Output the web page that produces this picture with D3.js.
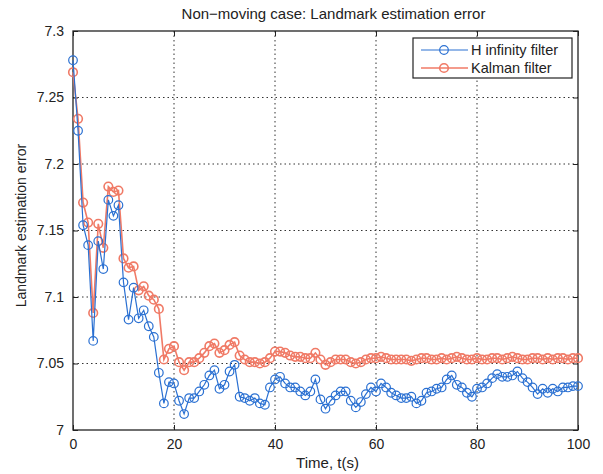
<!DOCTYPE html>
<html>
<head>
<meta charset="utf-8">
<script src="https://cdn.jsdelivr.net/npm/d3@7"></script>
<style>
  body { margin: 0; background: #fff; }
  text { font-family: "Liberation Sans", Arial, sans-serif; fill: #222; }
</style>
</head>
<body>
<svg id="chart" width="603" height="474"></svg>
<script>
// time steps 0..100
let time_steps = d3.range(0, 101);

let h_infinity_values = [
    7.278, 7.225, 7.154, 7.139, 7.067, 7.142, 7.121, 7.173, 7.161, 7.169,
    7.111, 7.083, 7.107, 7.084, 7.090, 7.078, 7.070, 7.043, 7.020, 7.036,
    7.035, 7.022, 7.012, 7.024, 7.024, 7.029, 7.034, 7.041, 7.045, 7.031,
    7.034, 7.044, 7.049, 7.025, 7.024, 7.022, 7.024, 7.020, 7.019, 7.032,
    7.038, 7.040, 7.035, 7.032, 7.032, 7.029, 7.026, 7.029, 7.038, 7.023,
    7.016, 7.022, 7.026, 7.029, 7.029, 7.022, 7.017, 7.021, 7.027, 7.032,
    7.029, 7.035, 7.032, 7.028, 7.026, 7.024, 7.024, 7.025, 7.020, 7.022,
    7.028, 7.029, 7.031, 7.032, 7.038, 7.041, 7.034, 7.032, 7.028, 7.025,
    7.031, 7.032, 7.035, 7.039, 7.042, 7.040, 7.040, 7.041, 7.044, 7.039,
    7.036, 7.032, 7.027, 7.031, 7.028, 7.031, 7.029, 7.032, 7.032, 7.033,
    7.033
];

let kalman_values = [
    7.269, 7.234, 7.171, 7.156, 7.088, 7.155, 7.137, 7.183, 7.179, 7.180,
    7.129, 7.122, 7.123, 7.105, 7.108, 7.101, 7.098, 7.091, 7.053, 7.061,
    7.063, 7.051, 7.045, 7.051, 7.051, 7.054, 7.058, 7.063, 7.065, 7.058,
    7.060, 7.064, 7.066, 7.056, 7.053, 7.051, 7.051, 7.050, 7.051, 7.054,
    7.059, 7.059, 7.058, 7.056, 7.055, 7.055, 7.054, 7.054, 7.058, 7.053,
    7.049, 7.051, 7.053, 7.053, 7.053, 7.051, 7.050, 7.051, 7.053, 7.054,
    7.054, 7.055, 7.054, 7.053, 7.053, 7.053, 7.053, 7.052, 7.053, 7.054,
    7.054, 7.053, 7.053, 7.054, 7.053, 7.054, 7.055, 7.054, 7.053, 7.053,
    7.054, 7.053, 7.053, 7.054, 7.054, 7.053, 7.054, 7.055, 7.054, 7.053,
    7.053, 7.054, 7.054, 7.053, 7.054, 7.053, 7.054, 7.054, 7.053, 7.054,
    7.054
];

let x_ticks = [0, 20, 40, 60, 80, 100];
let y_ticks = [7, 7.05, 7.1, 7.15, 7.2, 7.25, 7.3];
let y_tick_labels = ['7', '7.05', '7.1', '7.15', '7.2', '7.25', '7.3'];
let series_names = ['H infinity filter', 'Kalman filter'];
let series_colors = ['#2a70d2', '#f07a66'];
let series_widths = [1.2, 1.6];

let svg = d3.select('#chart');
let plot_left = 73, plot_right = 578, plot_top = 31, plot_bottom = 430;

let x_scale = d3.scaleLinear().domain([0, 100]).range([plot_left, plot_right]);
let y_scale = d3.scaleLinear().domain([7, 7.3]).range([plot_bottom, plot_top]);

// grid lines (dotted, matlab style)
let grid = svg.append('g').attr('class', 'grid');
x_ticks.slice(1, -1).forEach(function (t) {
    grid.append('line')
        .attr('x1', x_scale(t)).attr('x2', x_scale(t))
        .attr('y1', plot_top).attr('y2', plot_bottom)
        .attr('stroke', '#333').attr('stroke-width', 1)
        .attr('stroke-dasharray', '1.5,3');
});
y_ticks.slice(1, -1).forEach(function (v) {
    grid.append('line')
        .attr('x1', plot_left).attr('x2', plot_right)
        .attr('y1', y_scale(v)).attr('y2', y_scale(v))
        .attr('stroke', '#333').attr('stroke-width', 1)
        .attr('stroke-dasharray', '1.5,3');
});

// axes with inward ticks
let x_axis_bottom = d3.axisBottom(x_scale).tickValues(x_ticks).tickSize(-5).tickPadding(9).tickFormat(d3.format('d'));
let x_axis_top = d3.axisTop(x_scale).tickValues(x_ticks).tickSize(-5).tickFormat('');
let y_axis_left = d3.axisLeft(y_scale).tickValues(y_ticks).tickSize(-5).tickPadding(9)
    .tickFormat(function (d, i) { return y_tick_labels[i]; });
let y_axis_right = d3.axisRight(y_scale).tickValues(y_ticks).tickSize(-5).tickFormat('');

function style_axis(g) {
    g.select('.domain').remove();
    g.selectAll('line').attr('stroke', '#222');
    g.selectAll('text').style('font-size', '14px').style('font-family', '"Liberation Sans", Arial, sans-serif').attr('fill', '#222');
}

svg.append('g').attr('transform', 'translate(0,' + plot_bottom + ')').call(x_axis_bottom).call(style_axis);
svg.append('g').attr('transform', 'translate(0,' + plot_top + ')').call(x_axis_top).call(style_axis);
svg.append('g').attr('transform', 'translate(' + plot_left + ',0)').call(y_axis_left).call(style_axis);
svg.append('g').attr('transform', 'translate(' + plot_right + ',0)').call(y_axis_right).call(style_axis);

svg.append('rect')
    .attr('x', plot_left).attr('y', plot_top)
    .attr('width', plot_right - plot_left).attr('height', plot_bottom - plot_top)
    .attr('fill', 'none').attr('stroke', '#222').attr('stroke-width', 1.3);

// series
let line_gen = d3.line()
    .x(function (d) { return x_scale(d[0]); })
    .y(function (d) { return y_scale(d[1]); });

let all_series = [h_infinity_values, kalman_values];
// kalman first so h infinity sits on top
[1, 0].forEach(function (s) {
    let pts = time_steps.map(function (t, i) { return [t, all_series[s][i]]; });
    let g = svg.append('g');
    g.append('path')
        .datum(pts)
        .attr('d', line_gen)
        .attr('fill', 'none')
        .attr('stroke', series_colors[s])
        .attr('stroke-width', series_widths[s]);
    g.selectAll('circle')
        .data(pts)
        .enter()
        .append('circle')
        .attr('cx', function (d) { return x_scale(d[0]); })
        .attr('cy', function (d) { return y_scale(d[1]); })
        .attr('r', 4.3)
        .attr('fill', 'none')
        .attr('stroke', series_colors[s])
        .attr('stroke-width', series_widths[s]);
});

// legend
let legend = svg.append('g');
legend.append('rect')
    .attr('x', 413).attr('y', 38)
    .attr('width', 159).attr('height', 40)
    .attr('fill', '#fff').attr('stroke', '#222').attr('stroke-width', 1.2);
series_names.forEach(function (name, i) {
    let ly = 50 + i * 18;
    legend.append('line')
        .attr('x1', 421).attr('x2', 468)
        .attr('y1', ly).attr('y2', ly)
        .attr('stroke', series_colors[i]).attr('stroke-width', series_widths[i]);
    legend.append('circle')
        .attr('cx', 444).attr('cy', ly).attr('r', 4.3)
        .attr('fill', 'none').attr('stroke', series_colors[i]).attr('stroke-width', series_widths[i]);
    legend.append('text')
        .attr('x', 471).attr('y', ly + 5)
        .style('font-size', '14.5px')
        .text(name);
});

// titles
svg.append('text')
    .attr('x', (plot_left + plot_right) / 2 + 8).attr('y', 19)
    .attr('text-anchor', 'middle')
    .style('font-size', '15px')
    .text('Non\u2212moving case: Landmark estimation error');

svg.append('text')
    .attr('x', (plot_left + plot_right) / 2 + 2).attr('y', 468)
    .attr('text-anchor', 'middle')
    .style('font-size', '15px')
    .text('Time, t(s)');

svg.append('text')
    .attr('transform', 'translate(26,' + ((plot_top + plot_bottom) / 2 - 5) + ') rotate(-90)')
    .attr('text-anchor', 'middle')
    .style('font-size', '14px')
    .text('Landmark estimation error');
</script>
</body>
</html>
